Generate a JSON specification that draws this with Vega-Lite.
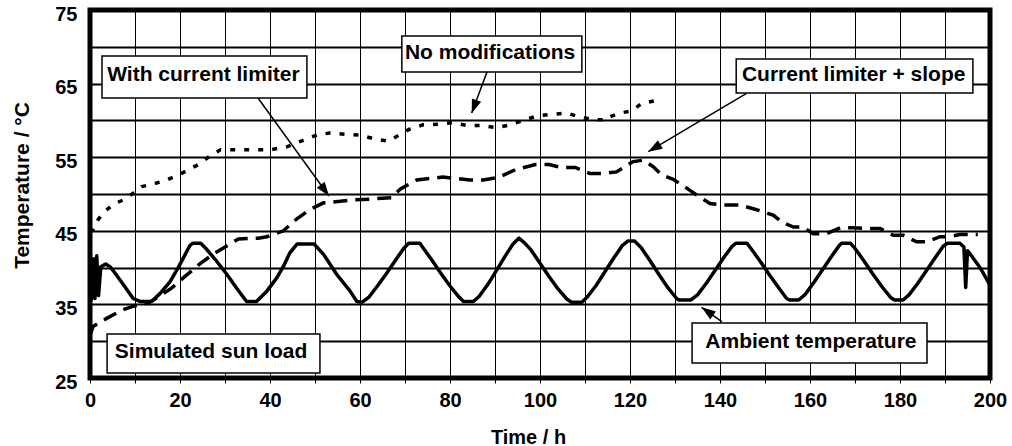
{
  "$schema": "https://vega.github.io/schema/vega-lite/v6.json",
  "width": 900,
  "height": 368,
  "autosize": "none",
  "padding": {"left": 90, "top": 10, "right": 22, "bottom": 68},
  "background": "white",
  "config": {"view": {"stroke": "black", "strokeWidth": 5}, "font": "Liberation Sans"},
  "datasets": {
    "ambient": [
      {"t": 0.3, "v": 35.5}, {"t": 0.8, "v": 41.2}, {"t": 1.1, "v": 35.8}, {"t": 1.5, "v": 41.6}, {"t": 1.9, "v": 36.2},
      {"t": 2.4, "v": 40.1}, {"t": 3.5, "v": 40.5}, {"t": 4.5, "v": 40.1}, {"t": 5.5, "v": 39.3}, {"t": 7.4, "v": 37.7},
      {"t": 9.6, "v": 35.8}, {"t": 11.1, "v": 35.4}, {"t": 13.7, "v": 35.4}, {"t": 15.6, "v": 36.5}, {"t": 17.8, "v": 38.1},
      {"t": 19.6, "v": 40.0}, {"t": 22.2, "v": 43.0}, {"t": 22.8, "v": 43.3}, {"t": 24.6, "v": 43.3}, {"t": 25.6, "v": 42.7},
      {"t": 28.1, "v": 40.9}, {"t": 30.4, "v": 39.1}, {"t": 32.6, "v": 37.2}, {"t": 34.8, "v": 35.4}, {"t": 37.0, "v": 35.4},
      {"t": 39.3, "v": 36.8}, {"t": 41.5, "v": 38.6}, {"t": 43.0, "v": 40.2}, {"t": 44.4, "v": 42.0}, {"t": 46.0, "v": 43.2},
      {"t": 49.8, "v": 43.2}, {"t": 51.9, "v": 41.8}, {"t": 54.8, "v": 39.1}, {"t": 57.8, "v": 36.8}, {"t": 59.3, "v": 35.4},
      {"t": 60.5, "v": 35.3}, {"t": 62.0, "v": 36.0}, {"t": 64.0, "v": 37.6}, {"t": 66.0, "v": 39.3}, {"t": 68.0, "v": 41.1},
      {"t": 69.7, "v": 42.6}, {"t": 70.8, "v": 43.3}, {"t": 73.3, "v": 43.3}, {"t": 74.0, "v": 42.7}, {"t": 76.0, "v": 41.0},
      {"t": 78.0, "v": 39.2}, {"t": 80.0, "v": 37.5}, {"t": 82.0, "v": 36.0}, {"t": 83.0, "v": 35.4}, {"t": 85.2, "v": 35.4},
      {"t": 86.5, "v": 36.1}, {"t": 88.5, "v": 37.8}, {"t": 90.5, "v": 39.8}, {"t": 92.5, "v": 41.8}, {"t": 94.0, "v": 43.2},
      {"t": 95.3, "v": 44.0}, {"t": 96.5, "v": 43.4}, {"t": 98.0, "v": 42.4}, {"t": 100.0, "v": 40.6}, {"t": 102.0, "v": 38.8},
      {"t": 104.0, "v": 37.1}, {"t": 106.0, "v": 35.7}, {"t": 107.0, "v": 35.3}, {"t": 109.3, "v": 35.3}, {"t": 110.5, "v": 36.0},
      {"t": 112.5, "v": 37.6}, {"t": 114.5, "v": 39.5}, {"t": 116.5, "v": 41.4}, {"t": 118.3, "v": 43.0}, {"t": 119.5, "v": 43.6},
      {"t": 121.0, "v": 43.6}, {"t": 122.5, "v": 42.7}, {"t": 124.5, "v": 40.9}, {"t": 126.5, "v": 39.0}, {"t": 128.5, "v": 37.2},
      {"t": 130.5, "v": 35.7}, {"t": 131.0, "v": 35.6}, {"t": 133.5, "v": 35.6}, {"t": 135.0, "v": 36.3}, {"t": 137.0, "v": 37.9},
      {"t": 139.0, "v": 39.7}, {"t": 141.0, "v": 41.5}, {"t": 142.7, "v": 42.9}, {"t": 143.5, "v": 43.3}, {"t": 146.0, "v": 43.3},
      {"t": 147.0, "v": 42.5}, {"t": 149.0, "v": 40.8}, {"t": 151.0, "v": 39.0}, {"t": 153.0, "v": 37.3}, {"t": 154.8, "v": 35.8},
      {"t": 155.5, "v": 35.6}, {"t": 157.5, "v": 35.6}, {"t": 159.0, "v": 36.4}, {"t": 161.0, "v": 38.1}, {"t": 163.0, "v": 39.9},
      {"t": 165.0, "v": 41.7}, {"t": 166.5, "v": 43.0}, {"t": 167.0, "v": 43.3}, {"t": 169.0, "v": 43.3}, {"t": 170.0, "v": 42.6},
      {"t": 172.0, "v": 40.9}, {"t": 174.0, "v": 39.1}, {"t": 176.0, "v": 37.4}, {"t": 178.0, "v": 35.9}, {"t": 178.8, "v": 35.6},
      {"t": 180.7, "v": 35.6}, {"t": 182.0, "v": 36.3}, {"t": 184.0, "v": 37.9}, {"t": 186.0, "v": 39.7}, {"t": 188.0, "v": 41.5},
      {"t": 189.6, "v": 42.9}, {"t": 190.5, "v": 43.3}, {"t": 193.3, "v": 43.3}, {"t": 194.2, "v": 42.8}, {"t": 194.6, "v": 37.3},
      {"t": 195.0, "v": 42.3}, {"t": 196.0, "v": 41.5}, {"t": 198.0, "v": 39.8}, {"t": 200.0, "v": 37.6}
    ],
    "nomod": [
      {"t": 0, "v": 44.8}, {"t": 0.7, "v": 45.2}, {"t": 1.8, "v": 46.5}, {"t": 3.0, "v": 47.5}, {"t": 5.2, "v": 48.6},
      {"t": 7.4, "v": 49.2}, {"t": 9.6, "v": 50.1}, {"t": 11.5, "v": 51.0}, {"t": 14.8, "v": 51.5}, {"t": 17, "v": 51.9},
      {"t": 20, "v": 52.7}, {"t": 22.2, "v": 53.4}, {"t": 24.4, "v": 54.1}, {"t": 26.7, "v": 55.2}, {"t": 29, "v": 56.0},
      {"t": 35, "v": 56.0}, {"t": 40, "v": 56.0}, {"t": 43.7, "v": 56.4}, {"t": 47.4, "v": 57.3}, {"t": 50.4, "v": 58.0},
      {"t": 53.3, "v": 58.3}, {"t": 56.7, "v": 58.1}, {"t": 60, "v": 58.0}, {"t": 63.7, "v": 57.4}, {"t": 66.3, "v": 57.2},
      {"t": 69, "v": 58.1}, {"t": 71, "v": 58.8}, {"t": 74, "v": 59.4}, {"t": 78, "v": 59.5}, {"t": 80.7, "v": 59.7},
      {"t": 83.8, "v": 59.3}, {"t": 87.4, "v": 59.3}, {"t": 90.4, "v": 59.0}, {"t": 93.3, "v": 59.4}, {"t": 96.3, "v": 60.0},
      {"t": 99.3, "v": 60.6}, {"t": 102, "v": 60.8}, {"t": 106, "v": 61.0}, {"t": 108.5, "v": 60.5}, {"t": 112, "v": 60.1},
      {"t": 115, "v": 60.1}, {"t": 115.6, "v": 60.5}, {"t": 117.8, "v": 61.0}, {"t": 120.4, "v": 61.3}, {"t": 122.6, "v": 62.3},
      {"t": 125.8, "v": 62.7}, {"t": 126.7, "v": 62.8}
    ],
    "limiter": [
      {"t": 0, "v": 30.8}, {"t": 0.7, "v": 32.0}, {"t": 3.7, "v": 33.1}, {"t": 7.0, "v": 34.2}, {"t": 9.3, "v": 34.7},
      {"t": 13.0, "v": 35.2}, {"t": 15.9, "v": 36.3}, {"t": 18.1, "v": 37.2}, {"t": 21.1, "v": 38.8}, {"t": 24.4, "v": 40.5},
      {"t": 27.8, "v": 42.0}, {"t": 31.1, "v": 43.2}, {"t": 33.0, "v": 43.9}, {"t": 37.4, "v": 44.0}, {"t": 39.3, "v": 44.2},
      {"t": 43.0, "v": 45.0}, {"t": 45.9, "v": 46.6}, {"t": 48.9, "v": 47.9}, {"t": 51.9, "v": 48.8}, {"t": 55.6, "v": 49.0},
      {"t": 58.5, "v": 49.2}, {"t": 62, "v": 49.3}, {"t": 67, "v": 49.5}, {"t": 69, "v": 50.7}, {"t": 72.6, "v": 51.9},
      {"t": 78.4, "v": 52.3}, {"t": 84.4, "v": 51.9}, {"t": 87.4, "v": 51.9}, {"t": 91, "v": 52.3}, {"t": 94.5, "v": 53.3},
      {"t": 99, "v": 54.0}, {"t": 102, "v": 54.0}, {"t": 104.8, "v": 53.6}, {"t": 107.8, "v": 53.6}, {"t": 111, "v": 52.8},
      {"t": 114, "v": 52.8}, {"t": 117, "v": 53.0}, {"t": 120.7, "v": 54.4}, {"t": 123, "v": 54.6}, {"t": 125.2, "v": 53.7},
      {"t": 127, "v": 52.6}, {"t": 129.6, "v": 52.0}, {"t": 132.6, "v": 50.8}, {"t": 135.9, "v": 49.4}, {"t": 137.8, "v": 48.7},
      {"t": 140.4, "v": 48.5}, {"t": 144.4, "v": 48.5}, {"t": 147.4, "v": 48.0}, {"t": 149.6, "v": 47.6}, {"t": 151.9, "v": 47.1},
      {"t": 153.7, "v": 46.2}, {"t": 156.3, "v": 45.5}, {"t": 158.5, "v": 45.5}, {"t": 160.7, "v": 44.6}, {"t": 163.7, "v": 44.6},
      {"t": 166.7, "v": 45.4}, {"t": 169.6, "v": 45.4}, {"t": 172.6, "v": 45.3}, {"t": 175.6, "v": 45.3}, {"t": 178.5, "v": 44.4},
      {"t": 180.7, "v": 44.4}, {"t": 183.7, "v": 43.5}, {"t": 186, "v": 43.5}, {"t": 188.9, "v": 44.2}, {"t": 191, "v": 44.2},
      {"t": 193.3, "v": 44.5}, {"t": 197.3, "v": 44.5}
    ],
    "boxes": [
      {"label": "With current limiter", "t": 2.67, "t2": 48.2, "v": 68.75, "v2": 63.04, "ct": 25.2, "cv": 66.2},
      {"label": "No modifications", "t": 69.3, "t2": 109.3, "v": 71.47, "v2": 66.58, "ct": 88.9, "cv": 69.1},
      {"label": "Current limiter + slope", "t": 143.6, "t2": 196.2, "v": 68.34, "v2": 63.72, "ct": 169.7, "cv": 66.2},
      {"label": "Simulated sun load", "t": 3.8, "t2": 51.1, "v": 30.98, "v2": 25.68, "ct": 26.9, "cv": 28.6},
      {"label": "Ambient temperature", "t": 133.8, "t2": 186.0, "v": 32.47, "v2": 27.04, "ct": 160.2, "cv": 29.85}
    ],
    "arrows": [
      {"name": "A1", "t": 37.33, "v": 63.04, "t2": 53.1, "v2": 49.73},
      {"name": "A2", "t": 88.22, "v": 66.58, "t2": 84.82, "v2": 61.0},
      {"name": "A3", "t": 145.9, "v": 63.68, "t2": 124.07, "v2": 55.75},
      {"name": "A4", "t": 140.4, "v": 32.65, "t2": 135.9, "v2": 34.61}
    ],
    "heads": [
      {"name": "A1", "t": 52.2, "v": 50.49},
      {"name": "A2", "t": 85.36, "v": 61.86},
      {"name": "A3", "t": 125.4, "v": 56.24},
      {"name": "A4", "t": 137.2, "v": 34.05}
    ]
  },
  "layer": [
    {
      "data": {"name": "ambient"},
      "mark": {"type": "line", "color": "black", "strokeWidth": 3.5, "strokeJoin": "round"},
      "encoding": {
        "x": {
          "field": "t", "type": "quantitative",
          "scale": {"domain": [0, 200], "nice": false, "zero": false},
          "axis": {
            "title": "Time / h",
            "tickCount": 20,
            "labelExpr": "datum.value % 20 == 0 ? datum.label : ''",
            "format": "d",
            "grid": true, "gridColor": "black", "gridWidth": 1, "gridOpacity": 1,
            "domain": false,
            "ticks": true, "tickColor": "black", "tickSize": 5, "tickWidth": 1,
            "labelFont": "Liberation Sans", "labelFontSize": 20, "labelFontWeight": "bold", "labelColor": "black",
            "labelPadding": 7, "labelFlush": false, "labelOverlap": false,
            "titleFont": "Liberation Sans", "titleFontSize": 20, "titleFontWeight": "bold", "titleColor": "black",
            "titleX": 438, "titleY": 65, "titleBaseline": "alphabetic", "titleAlign": "center"
          }
        },
        "y": {
          "field": "v", "type": "quantitative",
          "scale": {"domain": [25, 75], "nice": false, "zero": false},
          "axis": {
            "title": "Temperature / °C",
            "tickCount": 10,
            "labelExpr": "datum.value % 10 == 5 ? datum.label : ''",
            "format": "d",
            "grid": true, "gridColor": "black", "gridWidth": 2, "gridOpacity": 1,
            "domain": false, "ticks": false,
            "labelFont": "Liberation Sans", "labelFontSize": 20, "labelFontWeight": "bold", "labelColor": "black",
            "labelPadding": 13, "labelOffset": 4, "labelFlush": false, "labelOverlap": false,
            "titleFont": "Liberation Sans", "titleFontSize": 21, "titleFontWeight": "bold", "titleColor": "black",
            "titleAngle": 270, "titleX": -62, "titleY": 175, "titleBaseline": "alphabetic", "titleAlign": "center"
          }
        }
      }
    },
    {
      "data": {"name": "nomod"},
      "mark": {"type": "line", "color": "black", "strokeWidth": 3.5, "strokeDash": [5, 9]},
      "encoding": {
        "x": {"field": "t", "type": "quantitative", "scale": {"domain": [0, 200], "nice": false, "zero": false}},
        "y": {"field": "v", "type": "quantitative", "scale": {"domain": [25, 75], "nice": false, "zero": false}}
      }
    },
    {
      "data": {"name": "limiter"},
      "mark": {"type": "line", "color": "black", "strokeWidth": 3.5, "strokeDash": [14, 8]},
      "encoding": {
        "x": {"field": "t", "type": "quantitative", "scale": {"domain": [0, 200], "nice": false, "zero": false}},
        "y": {"field": "v", "type": "quantitative", "scale": {"domain": [25, 75], "nice": false, "zero": false}}
      }
    },
    {
      "data": {"name": "arrows"},
      "mark": {"type": "rule", "color": "black", "strokeWidth": 1.5},
      "encoding": {
        "x": {"field": "t", "type": "quantitative", "scale": {"domain": [0, 200], "nice": false, "zero": false}},
        "y": {"field": "v", "type": "quantitative", "scale": {"domain": [25, 75], "nice": false, "zero": false}},
        "x2": {"field": "t2"},
        "y2": {"field": "v2"}
      }
    },
    {
      "data": {"name": "heads"},
      "transform": [{"filter": "datum.name == 'A1'"}],
      "mark": {"type": "point", "shape": "M0,-1L-0.7,1L0.7,1Z", "filled": true, "color": "black", "opacity": 1, "size": 196, "angle": 143.7},
      "encoding": {
        "x": {"field": "t", "type": "quantitative", "scale": {"domain": [0, 200], "nice": false, "zero": false}},
        "y": {"field": "v", "type": "quantitative", "scale": {"domain": [25, 75], "nice": false, "zero": false}}
      }
    },
    {
      "data": {"name": "heads"},
      "transform": [{"filter": "datum.name == 'A2'"}],
      "mark": {"type": "point", "shape": "M0,-1L-0.7,1L0.7,1Z", "filled": true, "color": "black", "opacity": 1, "size": 196, "angle": 200.1},
      "encoding": {
        "x": {"field": "t", "type": "quantitative", "scale": {"domain": [0, 200], "nice": false, "zero": false}},
        "y": {"field": "v", "type": "quantitative", "scale": {"domain": [25, 75], "nice": false, "zero": false}}
      }
    },
    {
      "data": {"name": "heads"},
      "transform": [{"filter": "datum.name == 'A3'"}],
      "mark": {"type": "point", "shape": "M0,-1L-0.7,1L0.7,1Z", "filled": true, "color": "black", "opacity": 1, "size": 196, "angle": 239.3},
      "encoding": {
        "x": {"field": "t", "type": "quantitative", "scale": {"domain": [0, 200], "nice": false, "zero": false}},
        "y": {"field": "v", "type": "quantitative", "scale": {"domain": [25, 75], "nice": false, "zero": false}}
      }
    },
    {
      "data": {"name": "heads"},
      "transform": [{"filter": "datum.name == 'A4'"}],
      "mark": {"type": "point", "shape": "M0,-1L-0.7,1L0.7,1Z", "filled": true, "color": "black", "opacity": 1, "size": 196, "angle": 305.8},
      "encoding": {
        "x": {"field": "t", "type": "quantitative", "scale": {"domain": [0, 200], "nice": false, "zero": false}},
        "y": {"field": "v", "type": "quantitative", "scale": {"domain": [25, 75], "nice": false, "zero": false}}
      }
    },
    {
      "data": {"name": "boxes"},
      "mark": {"type": "rect", "fill": "white", "stroke": "black", "strokeWidth": 1.5},
      "encoding": {
        "x": {"field": "t", "type": "quantitative", "scale": {"domain": [0, 200], "nice": false, "zero": false}},
        "y": {"field": "v", "type": "quantitative", "scale": {"domain": [25, 75], "nice": false, "zero": false}},
        "x2": {"field": "t2"},
        "y2": {"field": "v2"}
      }
    },
    {
      "data": {"name": "boxes"},
      "mark": {"type": "text", "font": "Liberation Sans", "fontSize": 21, "fontWeight": "bold", "color": "black", "align": "center", "baseline": "middle"},
      "encoding": {
        "x": {"field": "ct", "type": "quantitative", "scale": {"domain": [0, 200], "nice": false, "zero": false}},
        "y": {"field": "cv", "type": "quantitative", "scale": {"domain": [25, 75], "nice": false, "zero": false}},
        "text": {"field": "label"}
      }
    }
  ]
}
